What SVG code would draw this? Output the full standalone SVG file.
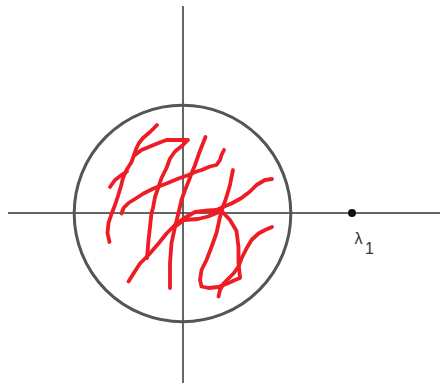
<svg xmlns="http://www.w3.org/2000/svg" width="440" height="383" viewBox="0 0 440 383">
<style>
.axis{stroke:#333;stroke-width:1.5;fill:none}
.circ{stroke:#555;stroke-width:3;fill:none}
.scr{stroke:#ee1c24;stroke-width:3.8;fill:none;stroke-linecap:round;stroke-linejoin:round}
.lbl{font-family:"Liberation Sans",Arial,sans-serif;fill:#333}
</style>
<rect width="440" height="383" fill="#fff"/>
<g id="axes">
<line class="axis" x1="183" y1="6" x2="183" y2="383"/>
<line class="axis" x1="8" y1="213" x2="440" y2="213"/>
</g>
<g id="circle">
<circle class="circ" cx="182.5" cy="213.5" r="108.3"/>
</g>
<g id="scribbles">
<path class="scr" d="M157,125 L150,132 L143,138 L139,143 L136.5,148 L134,155 L131.5,162 L126.5,170 L123,178 L121,186 L118,196 L115,205 L111.5,214 L108.5,223 L107.5,233 L109.5,242"/>
<path class="scr" d="M110,187 L115,180 L121.5,175 L127,171.5"/>
<path class="scr" d="M135,155 L141.5,150 L150,146.5 L158.5,143 L166.5,140 L188,140 L183,145 L175,151.5 L170,158.5 L166.5,168 L161.5,178 L158.5,187 L155,197 L153,208 L151.5,213 L150,227 L148.5,240 L147,258"/>
<path class="scr" d="M121.5,213.5 L123.5,208 L128.5,203 L135,199 L143.5,193.5 L153.5,188.5 L166.5,183.5 L178.5,178.5 L188.5,175 L195,172 L201.5,170 L210,166.5 L216.5,165 L220,160 L221.5,155 L224,150"/>
<path class="scr" d="M205.5,137 L201.5,147 L198.5,155 L195,165 L191.5,173.5 L188.5,181.5 L185,190 L181.5,200 L178.5,213 L175,227 L171.5,243 L170,263 L170,288"/>
<path class="scr" d="M233,170 L231.5,177 L230,185 L227.5,193.5 L225,201.5 L223.5,205 L220,217 L216.5,233 L211.5,247 L206.5,260 L201.5,270 L200,280 L201.5,286.5 L208.5,288 L218.5,287 L228.5,283 L235,280 L240,278"/>
<path class="scr" d="M272,179 L265,180 L256.5,185 L250,191.5 L241.5,198 L231.5,203.5 L223,207 L212,212"/>
<path class="scr" d="M128.5,281.5 L133.5,273.5 L140,263.5 L148.5,255 L158.5,243.5 L166.5,233.5 L175,225 L183.5,218.5 L195,212 L208,210.5 L218,210 L223.5,213 L230,220 L236.5,231 L238.5,247 L238.5,263 L240,277"/>
<path class="scr" d="M176,226 L184,220 L198,219 L208,216.5 L218,212.5"/>
<path class="scr" d="M272,227 L265,230 L258.5,233.5 L251.5,240 L246.5,248.5 L241.5,258.5 L238.5,266.5 L233.5,273.5 L228.5,278.5 L223.5,283.5 L220,290 L218.5,296.5"/>
</g>
<g id="lambda1">
<circle cx="352" cy="213" r="4" fill="#111"/>
<text class="lbl" x="354.5" y="243.5" font-size="16">λ<tspan x="365" y="253.5" font-size="16">1</tspan></text>
</g>
</svg>
